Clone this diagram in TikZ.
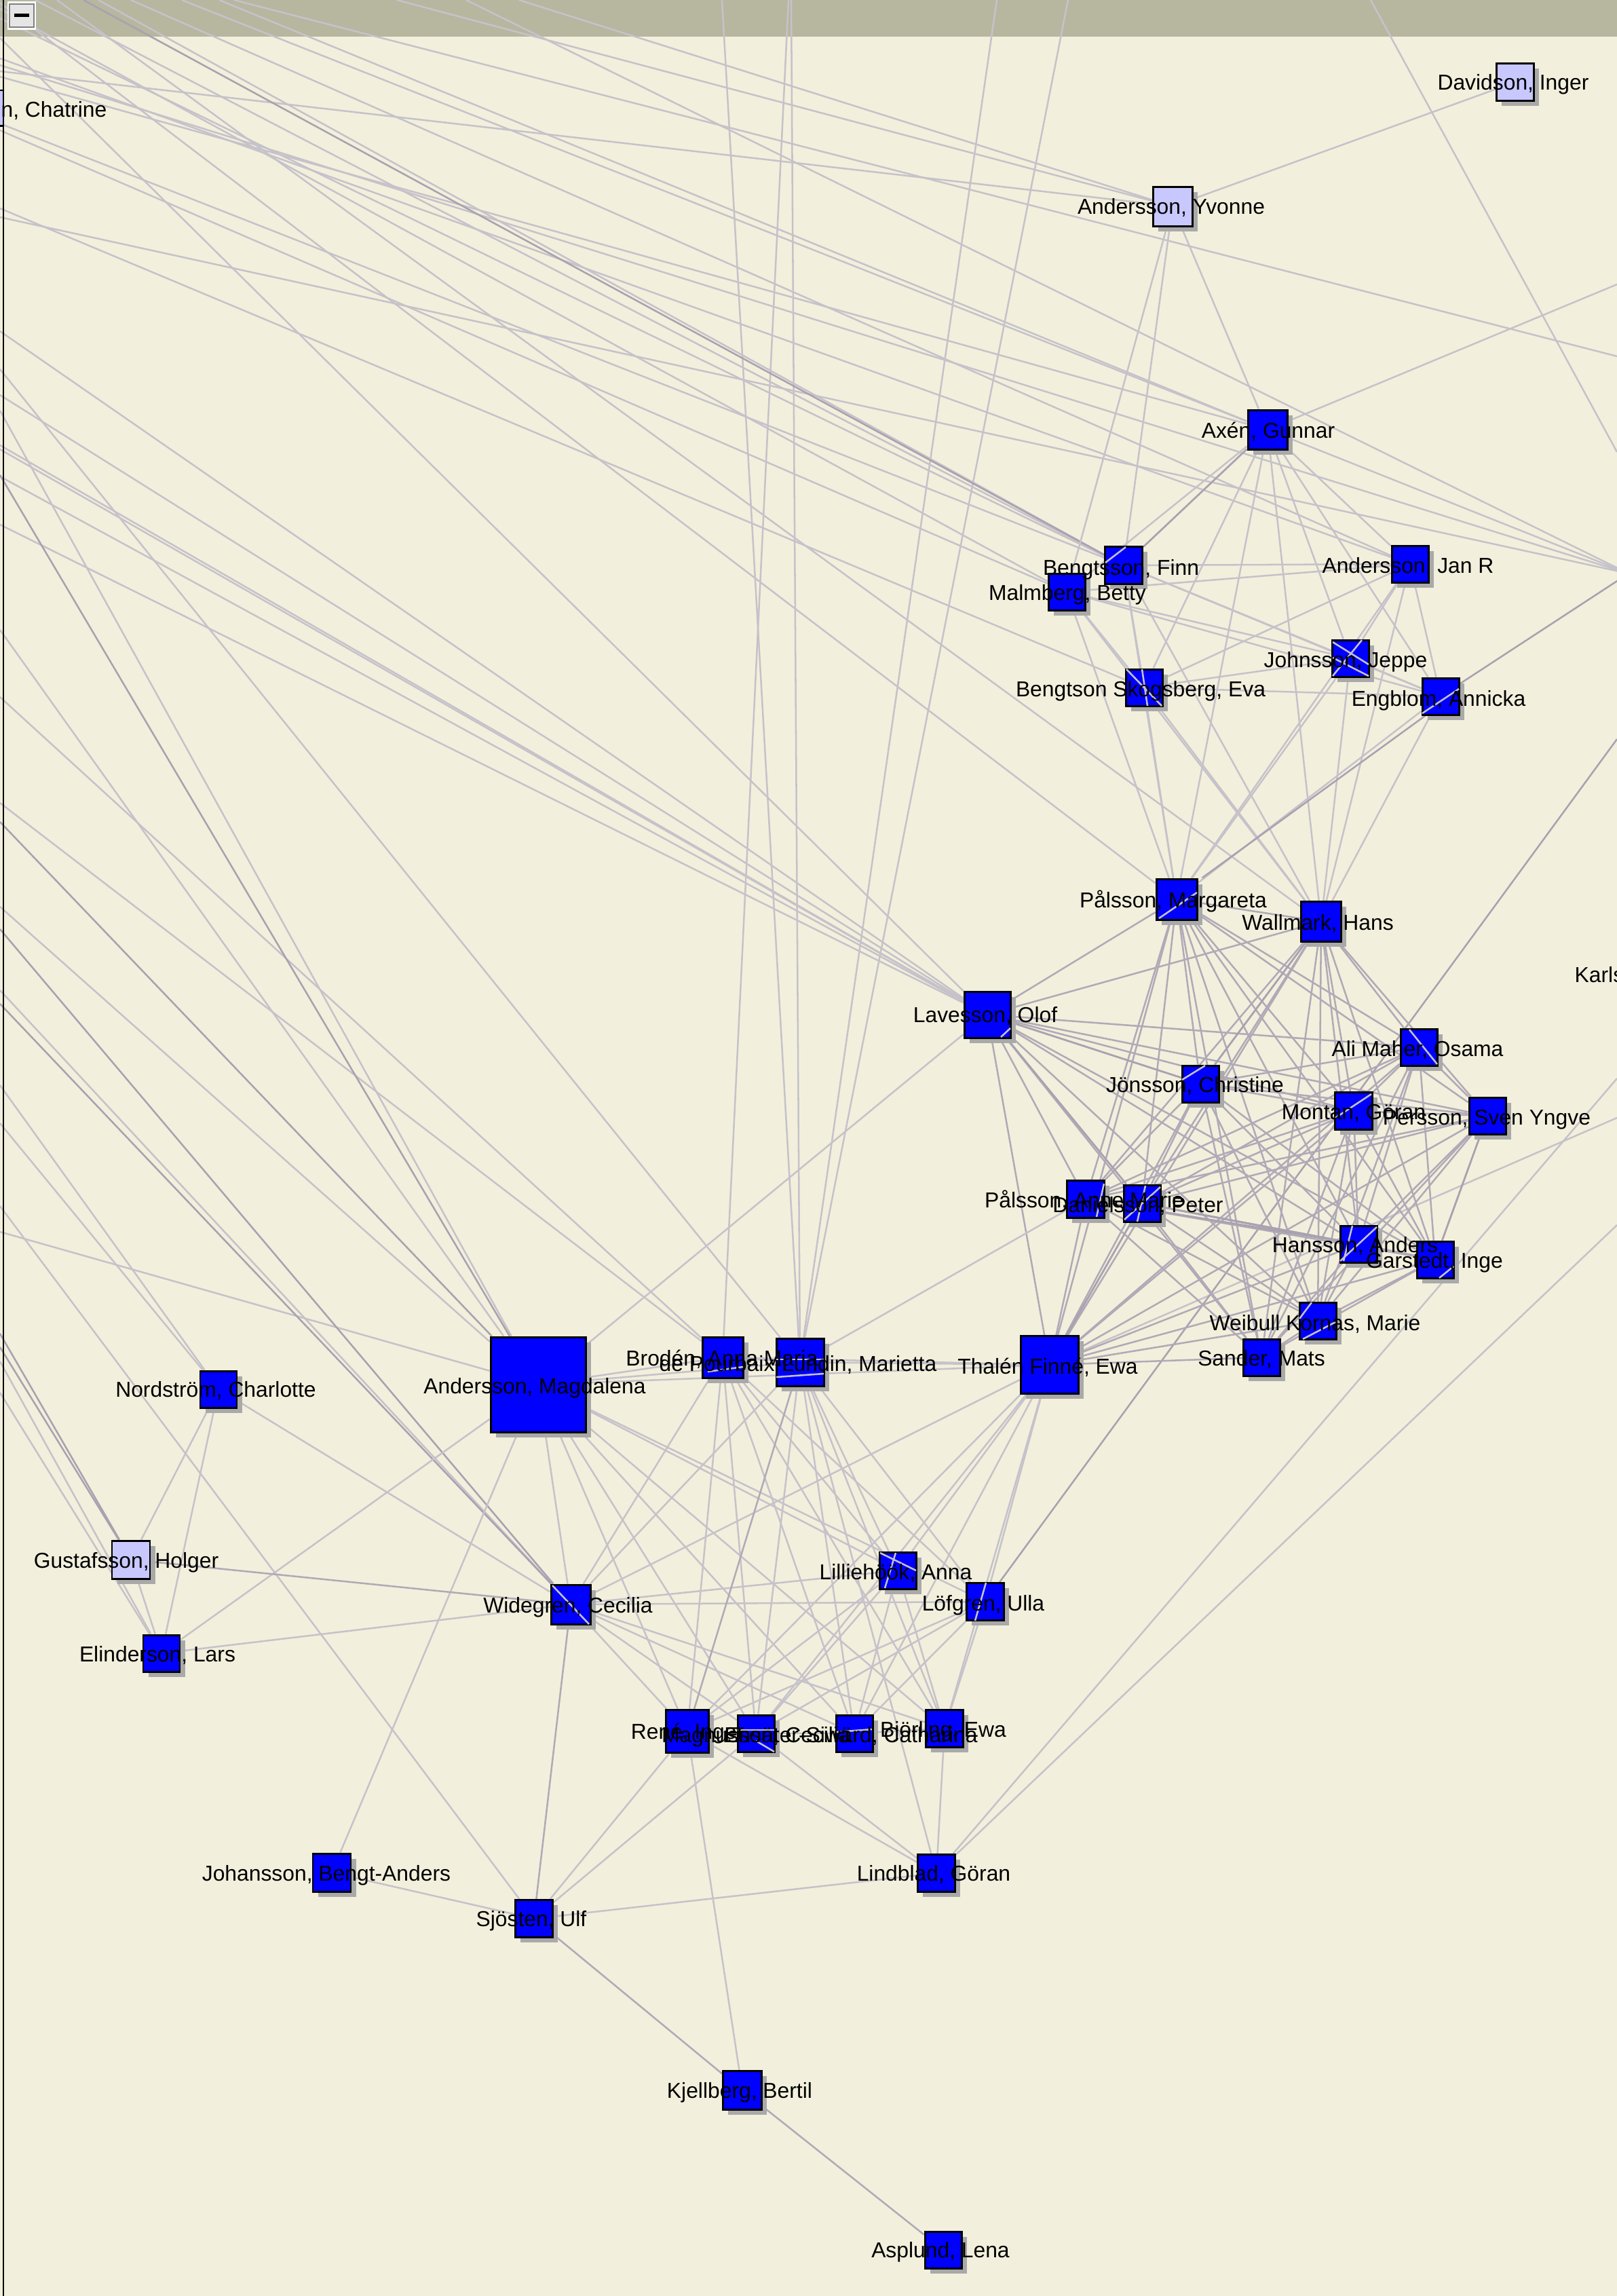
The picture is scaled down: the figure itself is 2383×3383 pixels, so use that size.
\documentclass[tikz,border=0pt]{standalone}
\usepackage{fontspec}
\setmainfont{Liberation Sans}
\usetikzlibrary{shadows}
\definecolor{paper}{HTML}{F2F0DC}
\definecolor{strip}{HTML}{B7B69F}
\definecolor{lite}{HTML}{C6C2CA}
\definecolor{mid}{HTML}{B0AAB7}
\definecolor{deep}{HTML}{A8A2B0}
\definecolor{nodeblue}{HTML}{0000FF}
\definecolor{nodepale}{HTML}{C8C8FF}
\definecolor{shade}{HTML}{A9A9A9}
\pgfdeclarelayer{bgl}\pgfdeclarelayer{edg}\pgfdeclarelayer{crs}\pgfdeclarelayer{lab}
\pgfsetlayers{bgl,edg,main,crs,lab}
\tikzset{
  person/.style={rectangle,draw=black,line width=0.85pt,inner sep=0pt,minimum size=#1*0.01cm,
    drop shadow={shadow xshift=0.075cm,shadow yshift=-0.075cm,fill=shade,opacity=1}},
  strong/.style={fill=nodeblue},
  pale/.style={fill=nodepale},
  lbl/.style={inner sep=0pt,text=black,font=\fontsize{9.05}{11}\selectfont,text height=6.5pt,text depth=0pt},
  edgeL/.style={draw=lite,line width=0.72pt},
  edgeM/.style={draw=mid,line width=0.72pt},
  edgeD/.style={draw=deep,line width=0.72pt},
  over/.style={draw=lite,line width=0.72pt}
}
% id, x, y, size, style, label x, label y, text
\newcommand{\pers}[8]{%
  \node[person=#4,#5] (#1) at (#2,#3) {};
  \begin{pgfonlayer}{lab}\node[lbl] (#1t) at (#6,#7) {#8};\end{pgfonlayer}}
\newcommand{\crossing}[5]{\draw[over] ([shift={(#2,#3)}]#1.center) -- ([shift={(#4,#5)}]#1.center);}
\begin{document}
\begin{tikzpicture}[x=0.01cm,y=-0.01cm]
\useasboundingbox (0,0) rectangle (2383,3383);
\begin{pgfonlayer}{bgl}
  \fill[paper] (0,0) rectangle (2383,3383);
  \fill[strip] (0,0) rectangle (2383,54);
\end{pgfonlayer}
% people
\pers{dav}{2233}{121}{55}{pale}{2230}{121}{Davidson, Inger}
\pers{yvo}{1728}{304}{58}{pale}{1726}{304}{Andersson, Yvonne}
\pers{axe}{1868}{633}{58}{strong}{1869}{634}{Axén, Gunnar}
\pers{ben}{1656}{833}{55}{strong}{1652}{836}{Bengtsson, Finn}
\pers{mal}{1572}{872}{54}{strong}{1573}{873}{Malmberg, Betty}
\pers{jan}{2078}{831}{54}{strong}{2075}{833}{Andersson, Jan R}
\pers{joh}{1990}{970}{54}{strong}{1983}{972}{Johnsson, Jeppe}
\pers{sko}{1686}{1013}{54}{strong}{1681}{1015}{Bengtson Skogsberg, Eva}
\pers{eng}{2123}{1026}{54}{strong}{2120}{1029}{Engblom, Annicka}
\pers{mar}{1734}{1325}{60}{strong}{1729}{1326}{Pålsson, Margareta}
\pers{wal}{1947}{1358}{59}{strong}{1942}{1359}{Wallmark, Hans}
\pers{lav}{1455}{1495}{68}{strong}{1452}{1495}{Lavesson, Olof}
\pers{jon}{1769}{1597}{54}{strong}{1761}{1598}{Jönsson, Christine}
\pers{ali}{2091}{1543}{54}{strong}{2089}{1545}{Ali Maher, Osama}
\pers{mon}{1995}{1637}{55}{strong}{1995}{1638}{Montan, Göran}
\pers{per}{2192}{1644}{54}{strong}{2191}{1646}{Persson, Sven Yngve}
\pers{anm}{1600}{1767}{55}{strong}{1598}{1768}{Pålsson, Anne Marie}
\pers{dan}{1683}{1773}{54}{strong}{1677}{1775}{Danielsson, Peter}
\pers{han}{2002}{1833}{54}{strong}{1997}{1834}{Hansson, Anders}
\pers{gar}{2115}{1856}{54}{strong}{2114}{1857}{Garstedt, Inge}
\pers{wei}{1942}{1946}{54}{strong}{1938}{1949}{Weibull Kornas, Marie}
\pers{san}{1859}{2000}{54}{strong}{1859}{2001}{Sander, Mats}
\pers{tha}{1547}{2011}{85}{strong}{1544}{2013}{Thalén Finné, Ewa}
\pers{bro}{1065}{2000}{60}{strong}{1064}{2001}{Brodén, Anna Maria}
\pers{lun}{1179}{2007}{70}{strong}{1176}{2009}{de Pourbaix-Lundin, Marietta}
\pers{ama}{793}{2040}{140}{strong}{788}{2042}{Andersson, Magdalena}
\pers{nor}{322}{2047}{54}{strong}{318}{2047}{Nordström, Charlotte}
\pers{gus}{193}{2298}{56}{pale}{186}{2299}{Gustafsson, Holger}
\pers{eli}{238}{2436}{54}{strong}{232}{2437}{Elinderson, Lars}
\pers{wid}{841}{2364}{58}{strong}{837}{2365}{Widegren, Cecilia}
\pers{lil}{1323}{2314}{54}{strong}{1320}{2316}{Lilliehöök, Anna}
\pers{lof}{1452}{2360}{55}{strong}{1449}{2362}{Löfgren, Ulla}
\pers{ren}{1013}{2551}{63}{strong}{1013}{2551}{René, Inger}
\pers{mag}{1114}{2554}{54}{strong}{1114}{2556}{Magnusson, Cecilia}
\pers{ens}{1259}{2554}{54}{strong}{1254}{2556}{Ensäter-Siwärd, Catharina}
\pers{bjo}{1392}{2547}{55}{strong}{1390}{2548}{Björling, Ewa}
\pers{joa}{489}{2759}{56}{strong}{481}{2760}{Johansson, Bengt-Anders}
\pers{lin}{1380}{2760}{55}{strong}{1376}{2760}{Lindblad, Göran}
\pers{sjo}{787}{2827}{55}{strong}{783}{2827}{Sjösten, Ulf}
\pers{kje}{1094}{3080}{57}{strong}{1090}{3080}{Kjellberg, Bertil}
\pers{asp}{1390}{3315}{54}{strong}{1386}{3315}{Asplund, Lena}
% people mostly outside the frame
\begin{pgfonlayer}{lab}
  \node[lbl,anchor=east] (chat) at (158,161) {n, Chatrine};
  \node[lbl,anchor=west] (karl) at (2320,1436) {Karls};
\end{pgfonlayer}
\node[rectangle,draw=black,line width=0.85pt,fill=nodepale,minimum width=0.1cm,minimum height=0.52cm,inner sep=0pt] (chatbox) at (0,159) {};
% frame line and collapse button
\draw[line width=0.85pt,black] (5,0) -- (5,3383);
\node[rectangle,draw=white,line width=0.5pt,fill=white,minimum width=0.41cm,minimum height=0.4cm,inner sep=0pt] (btnout) at (32,23) {};
\node[rectangle,draw=gray,line width=0.7pt,fill=black!10,minimum width=0.36cm,minimum height=0.34cm,inner sep=0pt] (btn) at (32,23) {};
\node[rectangle,fill=black,minimum width=0.21cm,minimum height=0.05cm,inner sep=0pt] (btnmark) at (32,22) {};
% free ends of connectors
\foreach \y in {4,13,27,56,86,96,105,113,182,192,307,320,488,544,582,605,656,662,700,702,773,928,1027,1183,1211,1336,1369,1459,1479,1599,1655,1777,1815,1965,1985,2006,2052}
  \coordinate (L\y) at (0,\y);
\foreach \x in {52,84,123,145,193,268,323,345,585,687,765,1064,1162,1166,1469,1574,2020}
  \coordinate (T\x) at (\x,0);
\foreach \y in {419,525,666,1089,1589,1647,1805}
  \coordinate (R\y) at (2383,\y);
\coordinate (Rn) at (2400,845);
\begin{pgfonlayer}{edg}
% long lines leaving the frame
\foreach \a/\b in {T145/ben,T765/yvo,T585/yvo,L105/yvo,T345/R525,T687/Rn,T323/axe,T268/axe,L113/axe,axe/R419,axe/Rn,L96/Rn,T193/jan,L86/jan,
  T52/ben,L27/ben,L182/ben,L13/mal,L192/mal,L320/Rn,L307/sko,L56/lav,L4/mar,T84/wal,L488/lav,L582/lav,L656/lav,L662/lav,L702/lav,L773/lav,
  L544/lun,L605/ama,L928/ama,L1336/ama,L1815/ama,L1027/bro,L1183/bro,L1459/wid,L1599/nor,L1655/nor,L1777/sjo,
  L2006/eli,L2052/eli,T1064/lun,T1162/bro,T1166/lun,T1469/lun,T1574/lun,T2020/R666,tha/R1647,lin/R1589,lin/R1805}
  \draw[edgeL] (\a) -- (\b);
\foreach \a/\b in {T123/ben,L700/ama,L1211/ama,L1369/wid,L1479/wid,L1965/gus,L1985/gus,eng/Rn,lof/R1089}
  \draw[edgeD] (\a) -- (\b);
% top group
\foreach \a/\b in {yvo/dav,yvo/ben,yvo/mal,yvo/axe,axe/ben,axe/mal,axe/sko,axe/mar,axe/wal,axe/joh,axe/eng,axe/jan,
  jan/ben,jan/mal,jan/sko,jan/joh,jan/eng,jan/wal,jan/mar,ben/joh,ben/eng,ben/sko,ben/wal,ben/mar,
  mal/joh,mal/eng,mal/sko,mal/mar,mal/wal,sko/joh,sko/eng,sko/mar,sko/wal,joh/eng,joh/mar,joh/wal,eng/mar,eng/wal}
  \draw[edgeL] (\a) -- (\b);
\draw[edgeD] (axe) -- (ben);
\draw[edgeD] ([xshift=0.06cm]eng.south west) -- ([xshift=0.06cm]mar.north east);
% dense group
\foreach \a [count=\i] in {lav,mar,wal,jon,mon,per,ali,anm,dan,han,gar,wei,san,tha}
  \foreach \b [count=\j] in {lav,mar,wal,jon,mon,per,ali,anm,dan,han,gar,wei,san,tha}
    {\ifnum\i<\j \draw[edgeM] (\a) -- (\b);\fi}
\foreach \a/\b in {lav/dan,lav/jon,dan/han,anm/han,dan/tha,per/gar,wal/jon}
  \draw[edgeD] (\a) -- (\b);
\draw[edgeL] (lav) -- (ama);
\draw[edgeL] (lun) -- (anm);
% lower group
\foreach \a/\b in {ama/bro,ama/lun,ama/tha,bro/lun,bro/tha,lun/tha,
  ama/wid,ama/ren,ama/mag,ama/ens,ama/bjo,ama/lil,ama/lof,
  bro/wid,bro/ren,bro/mag,bro/ens,bro/bjo,bro/lil,bro/lof,
  lun/wid,lun/mag,lun/ens,lun/bjo,lun/lil,lun/lof,lun/lin,
  tha/wid,tha/ren,tha/mag,tha/ens,tha/bjo,tha/lil,tha/lof,
  wid/lil,wid/lof,wid/ren,wid/mag,wid/ens,wid/bjo,
  lil/ren,lil/mag,lil/ens,lil/bjo,lof/ren,lof/mag,lof/ens,lof/bjo,
  ren/mag,mag/ens,ens/bjo,ren/lin,mag/lin,bjo/lin,ren/sjo,mag/sjo,ren/kje,
  nor/gus,nor/eli,nor/wid,gus/eli,eli/wid,eli/ama,ama/joa,joa/sjo,sjo/lin}
  \draw[edgeL] (\a) -- (\b);
\foreach \a/\b in {lun/ren,wid/sjo,gus/wid,sjo/kje,kje/asp}
  \draw[edgeM] (\a) -- (\b);
\end{pgfonlayer}
% edges that run across boxes
\begin{pgfonlayer}{crs}
\crossing{lav}{34}{20}{20}{33}
\crossing{mar}{-26}{28}{30}{-10}
\crossing{ali}{-14}{-26}{27}{25}
\crossing{jon}{-27}{-6}{7}{-27}
\crossing{mon}{-27}{10}{26}{-25}
\crossing{anm}{16}{26}{27}{-23}
\crossing{dan}{-26}{24}{27}{-24}
\crossing{dan}{5}{-26}{-7}{27}
\crossing{han}{-27}{25}{27}{-25}
\crossing{han}{-9}{-27}{-22}{25}
\crossing{gar}{6}{27}{27}{10}
\crossing{wei}{-27}{-3}{-9}{-27}
\crossing{wei}{26}{2}{-22}{27}
\crossing{bro}{-22}{21}{30}{14}
\crossing{lun}{-35}{-4}{35}{-4}
\crossing{lun}{-35}{22}{35}{17}
\crossing{lil}{-26}{-26}{27}{0}
\crossing{lil}{-3}{-26}{-19}{26}
\crossing{lof}{1}{-28}{-15}{28}
\crossing{mag}{-27}{-5}{27}{-5}
\crossing{mag}{0}{11}{27}{27}
\crossing{ens}{-26}{-2}{26}{-6}
\crossing{wid}{-27}{-28}{27}{29}
\crossing{ben}{-27}{-4}{3}{-27}
\crossing{joh}{-26}{-24}{27}{9}
\crossing{joh}{-26}{-1}{27}{26}
\crossing{joh}{-26}{26}{17}{-27}
\crossing{sko}{-26}{-27}{26}{27}
\crossing{sko}{-3}{-27}{5}{27}
\crossing{eng}{-27}{25}{27}{-11}
\end{pgfonlayer}
\end{tikzpicture}
\end{document}
